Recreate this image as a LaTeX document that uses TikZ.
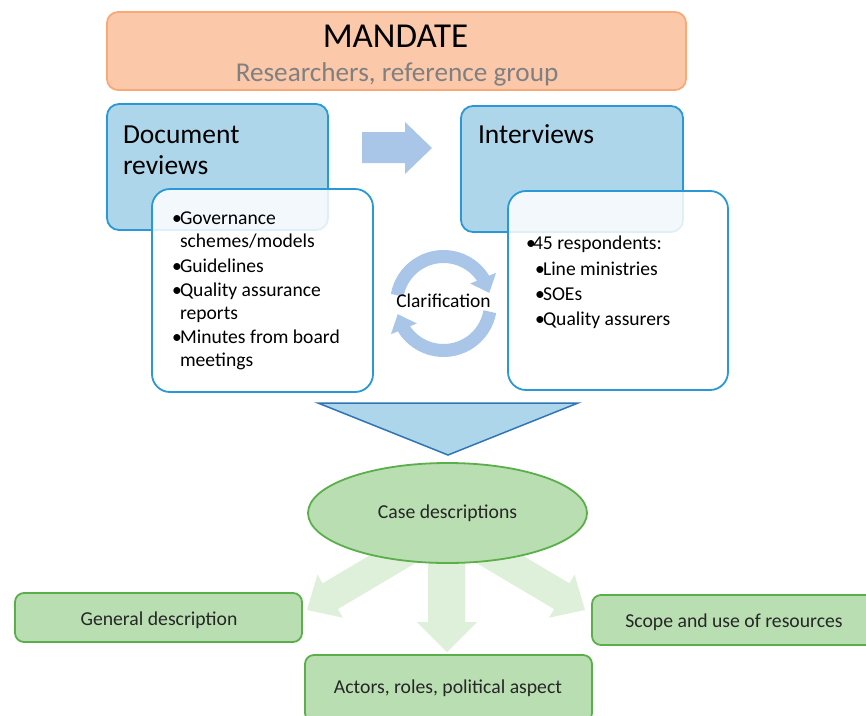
\documentclass[tikz,border=0pt]{standalone}
\usepackage{fontspec}
\setmainfont{Carlito}
\usetikzlibrary{arrows.meta,shapes.geometric,calc,bending}
\definecolor{peach}{RGB}{252,200,170}
\definecolor{peachborder}{RGB}{249,168,118}
\definecolor{subgray}{RGB}{128,128,128}
\definecolor{boxblue}{RGB}{41,152,214}
\definecolor{lightblue}{RGB}{174,214,234}
\definecolor{arrowblue}{RGB}{169,198,232}
\definecolor{triborder}{RGB}{46,117,182}
\definecolor{greenfill}{RGB}{185,222,178}
\definecolor{greenborder}{RGB}{90,175,75}
\definecolor{palegreen}{RGB}{222,240,217}
\begin{document}
\begin{tikzpicture}[x=1pt,y=-1pt,
  every node/.style={inner sep=0pt, outer sep=0pt},
  mandatebox/.style={draw=peachborder, line width=1.8pt, fill=peach, rounded corners=11pt},
  bluebox/.style={draw=boxblue, line width=1.8pt, fill=lightblue, rounded corners=12pt},
  whitebox/.style={draw=boxblue, line width=1.8pt, fill=white, fill opacity=0.85, draw opacity=1, rounded corners=18pt},
  greenbox/.style={draw=greenborder, line width=1.8pt, fill=greenfill, rounded corners=9pt},
  headtext/.style={anchor=base west, font=\fontsize{27.5}{32}\selectfont},
  itemtext/.style={anchor=base west, font=\fontsize{19.6}{23}\selectfont},
  bottomtext/.style={anchor=base, font=\fontsize{19.7}{23}\selectfont, text=black!85},
  cyc/.style={draw=arrowblue, line width=13pt, -{Triangle[length=16pt,width=27pt,flex]}}
]
\useasboundingbox (0,0) rectangle (866,715);

% Mandate
\node[mandatebox, minimum width=579pt, minimum height=78pt] (mandate) at (396.5,51) {};
\node[anchor=base, font=\fontsize{35}{42}\selectfont] (mtitle) at (395.5,47) {MANDATE};
\node[anchor=base, font=\fontsize{27.2}{32}\selectfont, text=subgray] (msub) at (397,81) {Researchers, reference group};

% Document reviews
\node[bluebox, minimum width=221pt, minimum height=126pt] (docbox) at (217.5,167) {};
\node[headtext] (doct1) at (123,143) {Document};
\node[headtext] (doct2) at (123,174) {reviews};
\node[whitebox, minimum width=221pt, minimum height=203pt] (docin) at (262.5,290.5) {};
\foreach \yy/\bb/\txt [count=\i] in {224/1/{Governance}, 247/0/{schemes/models}, 272/1/{Guidelines}, 296/1/{Quality assurance}, 319/0/{reports}, 343/1/{Minutes from board}, 366/0/{meetings}}{
  \ifnum\bb=1
    \node[itemtext] (dl\i) at (172,\yy) {\makebox[8pt][l]{•}\txt};
  \else
    \node[itemtext] (dl\i) at (180,\yy) {\txt};
  \fi
}

% Interviews
\node[bluebox, minimum width=222pt, minimum height=126pt] (intbox) at (572,169) {};
\node[headtext] (intt) at (478,143) {Interviews};
\node[whitebox, minimum width=220pt, minimum height=199pt] (intin) at (618,290.5) {};
\node[itemtext] (il1) at (526,249) {\makebox[7pt][l]{•}45 respondents:};
\node[itemtext] (il2) at (535,275) {\makebox[8pt][l]{•}Line ministries};
\node[itemtext] (il3) at (535,300) {\makebox[8pt][l]{•}SOEs};
\node[itemtext] (il4) at (535,325) {\makebox[8pt][l]{•}Quality assurers};

% Right block arrow
\fill[arrowblue] (362,132) -- (405,132) -- (405,122) -- (432,148) -- (405,174) -- (405,163) -- (362,163) -- cycle;

% Clarification cycle
\coordinate (cc) at (443.5,303.5);
\draw[cyc] ($(cc)+(-170:47)$) arc[start angle=-170, end angle=-13, radius=47];
\draw[cyc] ($(cc)+(10:47)$) arc[start angle=10, end angle=167, radius=47];
\node[anchor=base, font=\fontsize{19.5}{23}\selectfont] (clar) at (443.5,307) {Clarification};

% Down triangle
\draw[triborder, line width=1.5pt, fill=lightblue, line join=miter] (318,403) -- (578,403) -- (448,455) -- cycle;

% Green arrows (behind ellipse)
\fill[palegreen] (408.55,532.3) -- (322.55,583.3) -- (317.45,574.7) -- (307,610) -- (342.95,617.7) -- (337.85,609.1) -- (423.85,558.1) -- cycle;
\fill[palegreen] (483.45,532.3) -- (569.45,583.3) -- (574.55,574.7) -- (585,610) -- (549.05,617.7) -- (554.15,609.1) -- (468.15,558.1) -- cycle;
\fill[palegreen] (428,530) -- (428,622) -- (417,622) -- (447,652) -- (477,622) -- (465,622) -- (465,530) -- cycle;

% Case descriptions ellipse
\node[ellipse, draw=greenborder, line width=1.8pt, fill=greenfill, minimum width=279pt, minimum height=100pt] (case) at (447.5,513) {};
\node[bottomtext] (caset) at (447.5,518) {Case descriptions};

% Bottom boxes
\node[greenbox, minimum width=287pt, minimum height=49pt] (gen) at (158.5,617.5) {};
\node[bottomtext] (gent) at (159,625) {General description};
\node[greenbox, minimum width=287pt, minimum height=67pt] (act) at (448.5,688.5) {};
\node[bottomtext] (actt) at (448,693) {Actors, roles, political aspect};
\node[greenbox, minimum width=288pt, minimum height=50pt] (scope) at (736,620) {};
\node[bottomtext] (scopet) at (734,627) {Scope and use of resources};
\end{tikzpicture}
\end{document}
